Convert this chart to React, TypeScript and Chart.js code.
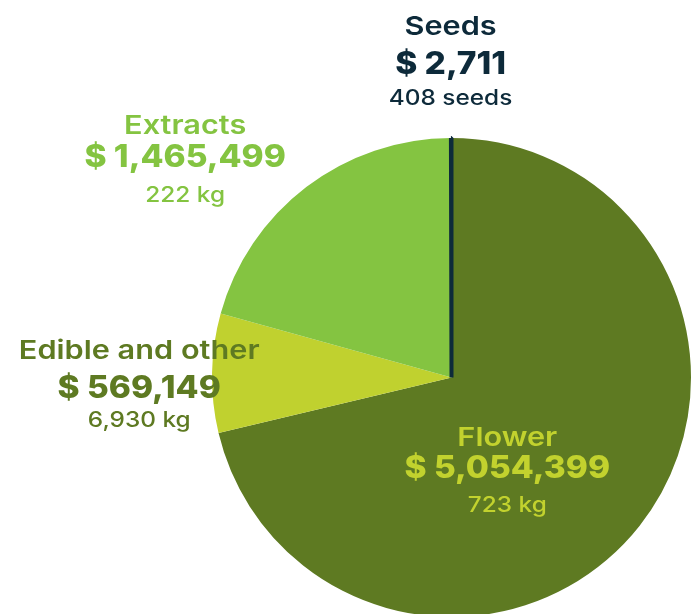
import React, { useEffect, useRef } from "react";
import { Chart, registerables } from "chart.js";

Chart.register(...registerables);

const categories = ["Flower", "Edible and other", "Extracts", "Seeds"];
const salesValues = [5054399, 569149, 1465499, 2711];
const valueLabels = ["$ 5,054,399", "$ 569,149", "$ 1,465,499", "$ 2,711"];
const quantityLabels = ["723 kg", "6,930 kg", "222 kg", "408 seeds"];

const sliceColors = ["#5e7a22", "#c0d12f", "#84c441", "#0d2a3a"];
const textColors = ["#c2d22e", "#5e7a22", "#84c441", "#0d2a3a"];
// label anchor relative to pie centre, in units of radius (value line baseline)
const labelAnchors = [
  [0.233, 0.421],
  [-1.304, 0.087],
  [-1.112, -0.879],
  [-0.004, -1.267],
];
const titleOffsets = [-32, -39, -33, -39];
const subOffsets = [34, 29, 35, 31];

const FONT = "Inter, 'DejaVu Sans', sans-serif";

function drawStretched(ctx: CanvasRenderingContext2D, text: string, x: number, y: number, sx: number) {
  ctx.save();
  ctx.translate(x, y);
  ctx.scale(sx, 1);
  ctx.fillText(text, 0, 0);
  ctx.restore();
}

const labelPlugin = {
  id: "sliceLabels",
  afterDraw(chart: any) {
    const meta = chart.getDatasetMeta(0);
    const arc = meta.data[0];
    if (!arc) return;
    const cx = arc.x;
    const cy = arc.y;
    const r = arc.outerRadius;
    const ctx = chart.ctx as CanvasRenderingContext2D;
    ctx.save();
    ctx.textAlign = "center";
    ctx.textBaseline = "alphabetic";
    categories.forEach((cat, i) => {
      const x = cx + labelAnchors[i][0] * r;
      const y = cy + labelAnchors[i][1] * r;
      ctx.fillStyle = textColors[i];
      ctx.font = `600 26px ${FONT}`;
      drawStretched(ctx, cat, x, y + titleOffsets[i], 1.18);
      ctx.font = `800 31px ${FONT}`;
      drawStretched(ctx, valueLabels[i], x, y, 1.08);
      ctx.font = `500 21px ${FONT}`;
      drawStretched(ctx, quantityLabels[i], x, y + subOffsets[i], 1.16);
    });
    ctx.restore();
  },
};

export default function App() {
  const ref = useRef<HTMLCanvasElement | null>(null);
  useEffect(() => {
    document.body.style.margin = "0";
    const canvas = ref.current;
    if (!canvas) return;
    const chart = new Chart(canvas, {
      type: "pie",
      data: {
        labels: categories,
        datasets: [
          {
            data: salesValues,
            backgroundColor: sliceColors,
            borderColor: sliceColors,
            borderWidth: [0, 0, 0, 4],
          },
        ],
      },
      options: {
        responsive: false,
        animation: false,
        layout: { padding: { left: 210, right: 0, top: 136, bottom: 21 } },
        plugins: {
          legend: { display: false },
          tooltip: { enabled: false },
        },
      },
      plugins: [labelPlugin],
    });
    return () => chart.destroy();
  }, []);
  return (
    <div style={{ width: 693, height: 614, overflow: "hidden", background: "#fff" }}>
      <canvas ref={ref} width={693} height={640} />
    </div>
  );
}
